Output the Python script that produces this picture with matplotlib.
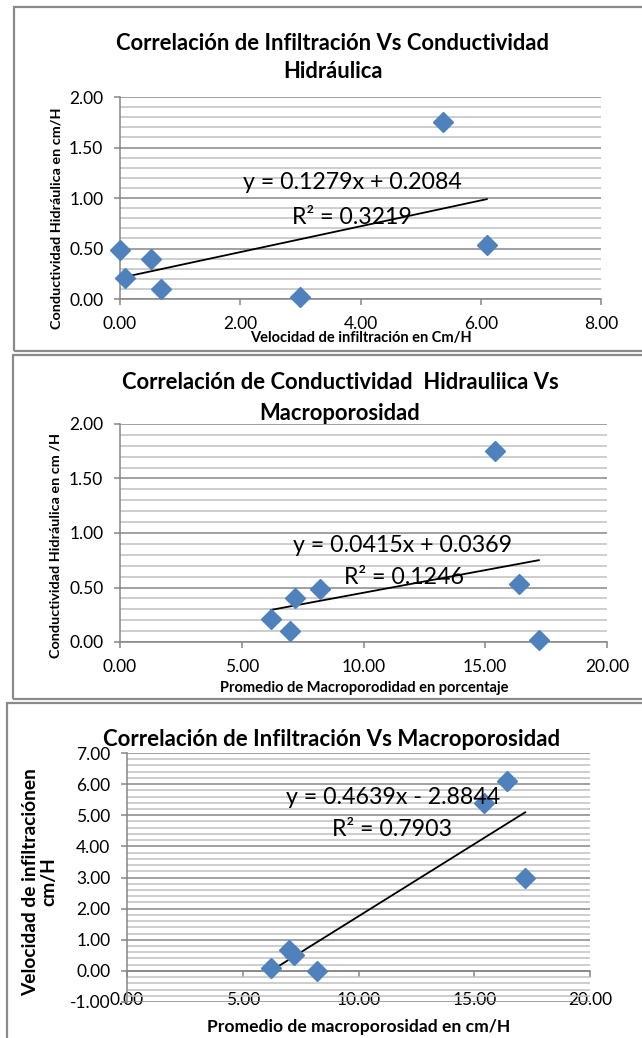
import numpy as np
import matplotlib
matplotlib.use("Agg")
import matplotlib.pyplot as plt
from matplotlib.patches import Rectangle
from matplotlib.ticker import MultipleLocator, FormatStrFormatter

plt.rcParams['font.family'] = ['Lato', 'DejaVu Sans']

# Datos de las 7 muestras de suelo
infiltracion = [0.00, 0.08, 0.52, 0.68, 3.00, 5.38, 6.10]      # cm/H
conductividad = [0.49, 0.21, 0.40, 0.10, 0.02, 1.75, 0.53]     # cm/H
macroporosidad = [8.2, 6.2, 7.2, 7.0, 17.2, 15.4, 16.4]        # %

# Coeficientes de las lineas de tendencia (pendiente, intercepto, R2)
tend_inf_cond = (0.1279, 0.2084, 0.3219)
tend_macro_cond = (0.0415, 0.0369, 0.1246)
tend_macro_inf = (0.4639, -2.8844, 0.7903)

W, H = 642, 1038
AZUL = '#4f81bd'
GRIS = '#868686'
GRIS_CLARO = '#c0c0c0'

fig = plt.figure(figsize=(W / 100, H / 100), dpi=100)


def fx(x):
    return x / W


def fy(y):
    return 1 - y / H


def ejes(l, t, r, b):
    return fig.add_axes([fx(l), fy(b), (r - l) / W, (b - t) / H])


def caja(l, t, r, b):
    fig.add_artist(Rectangle((fx(l), fy(b)), (r - l) / W, (b - t) / H,
                             transform=fig.transFigure, fill=False,
                             edgecolor='#8a8a8a', lw=1.6))


def texto(x, y, s, **kw):
    kw.setdefault('ha', 'center')
    kw.setdefault('va', 'center')
    fig.text(fx(x), fy(y), s, **kw)


def estilo(ax, xmax, xstep, ymin, ymax, ystep, ymenor, xpad=8, ypad=8):
    ax.set_xlim(0, xmax)
    ax.set_ylim(ymin, ymax)
    ax.set_xticks(np.arange(0, xmax + xstep / 2, xstep))
    ax.set_yticks(np.arange(ymin, ymax + ystep / 2, ystep))
    ax.yaxis.set_minor_locator(MultipleLocator(ymenor))
    ax.xaxis.set_major_formatter(FormatStrFormatter('%.2f'))
    ax.yaxis.set_major_formatter(FormatStrFormatter('%.2f'))
    ax.grid(axis='y', which='major', color=GRIS, lw=1.1)
    ax.grid(axis='y', which='minor', color=GRIS_CLARO, lw=1.1)
    ax.set_axisbelow(True)
    ax.tick_params(which='minor', length=0)
    ax.tick_params(which='major', direction='out', length=4, width=1.1,
                   color=GRIS, labelsize=12.5)
    ax.tick_params(axis='x', pad=xpad)
    ax.tick_params(axis='y', pad=ypad)
    for s in ['top', 'right']:
        ax.spines[s].set_visible(False)
    for s in ['left', 'bottom']:
        ax.spines[s].set_color(GRIS)
        ax.spines[s].set_linewidth(1.1)
    ax.patch.set_alpha(0)


def tendencia(ax, x, coef):
    m, b, _ = coef
    xs = np.array([min(x), max(x)])
    ax.plot(xs, m * xs + b, color='black', lw=1.3, zorder=3)


def puntos(ax, x, y):
    ax.plot(x, y, 'D', color=AZUL, ms=10.5, mec=AZUL, zorder=4, clip_on=False)


def ecuacion(coef):
    m, b, _ = coef
    signo = '+' if b >= 0 else '-'
    return f"y = {m:.4f}x {signo} {abs(b):.4f}"


# ---- Grafico 1: Infiltracion vs Conductividad ----
caja(14, 7, 660, 351)
ax1 = ejes(120, 97, 601, 299)
estilo(ax1, 8, 2, 0, 2, 0.5, 0.1)
puntos(ax1, infiltracion, conductividad)
tendencia(ax1, infiltracion, tend_inf_cond)
texto(333, 43, "Correlación de Infiltración Vs Conductividad", fontsize=15.8, fontweight='bold')
texto(333, 72, "Hidráulica", fontsize=15.8, fontweight='bold')
texto(361, 338, "Velocidad de infiltración en Cm/H", fontsize=10.5, fontweight='bold')
texto(57, 218, "Conductividad Hidráulica en cm/H", fontsize=10.4, fontweight='bold', rotation=90)
texto(352, 183, ecuacion(tend_inf_cond), fontsize=16.7)
texto(352, 217, f"R² = {tend_inf_cond[2]:.4f}", fontsize=16.7)

# ---- Grafico 2: Macroporosidad vs Conductividad ----
caja(13, 355, 660, 699)
ax2 = ejes(120, 424, 607, 642)
estilo(ax2, 20, 5, 0, 2, 0.5, 0.1)
puntos(ax2, macroporosidad, conductividad)
tendencia(ax2, macroporosidad, tend_macro_cond)
texto(340, 383, "Correlación de Conductividad  Hidrauliica Vs", fontsize=15.8, fontweight='bold')
texto(340, 413, "Macroporosidad", fontsize=15.8, fontweight='bold')
texto(364, 688, "Promedio de Macroporodidad en porcentaje", fontsize=10.5, fontweight='bold')
texto(56, 545, "Conductividad Hidráulica en cm /H", fontsize=10.4, fontweight='bold', rotation=90)
texto(403, 545, ecuacion(tend_macro_cond), fontsize=16.7)
texto(404, 578, f"R² = {tend_macro_cond[2]:.4f}", fontsize=16.7)

# ---- Grafico 3: Macroporosidad vs Infiltracion ----
caja(7, 703, 660, 1060)
ax3 = ejes(127, 753, 590, 1002)
estilo(ax3, 20, 5, -1, 7, 1, 0.2, xpad=11)
ax3.spines['bottom'].set_position(('data', 0))
puntos(ax3, macroporosidad, infiltracion)
tendencia(ax3, macroporosidad, tend_macro_inf)
texto(332, 740, "Correlación de Infiltración Vs Macroporosidad", fontsize=16, fontweight='bold')
texto(359, 1027, "Promedio de macroporosidad en cm/H", fontsize=12.6, fontweight='bold')
texto(40, 882, "Velocidad de infiltraciónen\ncm/H", fontsize=13.8, fontweight='bold',
      rotation=90, multialignment='center', linespacing=1.1)
texto(393, 798, ecuacion(tend_macro_inf), fontsize=16.7)
texto(392, 830, f"R² = {tend_macro_inf[2]:.4f}", fontsize=16.7)

fig.savefig("out.png", dpi=100)
